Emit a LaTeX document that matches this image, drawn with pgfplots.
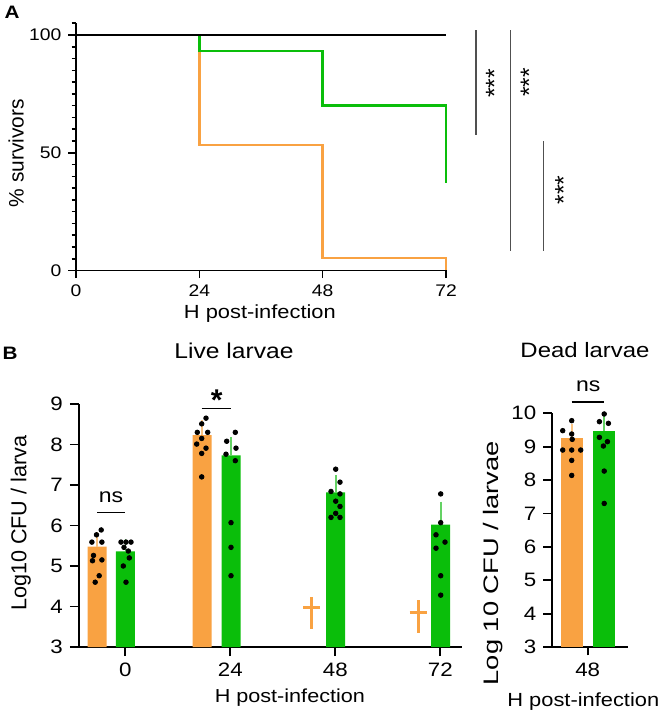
\documentclass[border=0pt]{standalone}
\usepackage{fontspec}
\setmainfont{Liberation Sans}[FakeStretch=1.15]
\newfontfamily\rotfont{Liberation Sans}
\newfontfamily\deadfont{Liberation Sans}[FakeStretch=1.3]
\usepackage{pgfplots}
\pgfplotsset{compat=1.18}
\definecolor{cor}{RGB}{249,162,66}
\definecolor{cgr}{RGB}{10,190,10}
\definecolor{corL}{RGB}{250,195,130}
\definecolor{cgrL}{RGB}{100,210,100}
\definecolor{sig}{RGB}{80,80,80}
\pgfplotsset{
  myax/.style={
    scale only axis,
    axis lines=left, axis line style={-, line width=0.9pt},
    tick align=outside,
    every tick/.style={black, line width=0.9pt},
    /pgf/number format/assume math mode=true,
  }
}
\begin{document}
\begin{tikzpicture}
\useasboundingbox (0,0) rectangle (330pt,357.5pt);
\node[font=\bfseries\fontsize{9}{10}\selectfont, inner sep=0pt] at (6pt,351.25pt) {A};
\node[font=\bfseries\fontsize{9}{10}\selectfont, inner sep=0pt] at (5pt,181pt) {B};
% ---------------- Panel A ----------------
\begin{axis}[myax,
  at={(38pt,222.25pt)}, anchor=south west,
  width=185pt, height=123.6pt,
  xmin=0, xmax=72, ymin=0, ymax=105,
  axis line style={-, line width=0.8pt},
  every tick/.style={black, line width=0.8pt},
  xtick={0,24,48,72}, ytick={0,50,100},
  minor ytick={5,10,...,105},
  major tick length=3.8pt, minor tick length=2.2pt,
  tick label style={font=\fontsize{8.4}{9}\selectfont},
  xlabel={H post-infection}, ylabel={\% survivors},
  xlabel style={at={(axis description cs:0.497,-0.173)}, anchor=center, font=\fontsize{9.5}{11}\selectfont},
  ylabel style={at={(axis description cs:-0.162,0.475)}, anchor=center, font=\rotfont\fontsize{10.45}{12}\selectfont},
  clip=false,
]
\addplot[cor, const plot, line width=1.2pt] coordinates {(0,100)(24,53.3)(48,5.2)(72,0)};
\addplot[cgr, const plot, line width=1.2pt] coordinates {(0,100)(24,93.2)(48,70)(72,37.3)};
\addplot[black, line width=1.2pt] coordinates {(0,100)(72,100)};
\draw[sig, line width=0.65pt] (axis cs:77.84,102.1) -- (axis cs:77.84,57.6);
\draw[sig, line width=0.65pt] (axis cs:84.59,102.1) -- (axis cs:84.59,8.4);
\draw[sig, line width=0.65pt] (axis cs:91.01,55.0) -- (axis cs:91.01,8.4);
\node[rotate=90, font=\rotfont\fontsize{12.3}{14}\selectfont, inner sep=0pt] at (axis cs:81.4,79.5) {***};
\node[rotate=90, font=\rotfont\fontsize{12.3}{14}\selectfont, inner sep=0pt] at (axis cs:88.2,79.8) {***};
\node[rotate=90, font=\rotfont\fontsize{12.3}{14}\selectfont, inner sep=0pt] at (axis cs:94.9,34.2) {***};
\end{axis}
% ---------------- Panel B: live larvae ----------------
\begin{axis}[myax,
  at={(39.5pt,34pt)}, anchor=south west,
  width=191.35pt, height=121.5pt,
  xmin=-46.3, xmax=336.4, ymin=3, ymax=9,
  xtick={0,105,210,315}, xticklabels={0,24,48,72},
  ytick={3,4,5,6,7,8,9},
  major tick length=4.6pt,
  tick label style={font=\fontsize{9.7}{11}\selectfont},
  xlabel={H post-infection}, ylabel={Log10 CFU / larva},
  title={Live larvae},
  xlabel style={at={(axis description cs:0.551,-0.21)}, anchor=center, font=\fontsize{9.4}{11}\selectfont},
  ylabel style={at={(axis description cs:-0.152,0.509)}, anchor=center, font=\rotfont\fontsize{10.8}{12}\selectfont},
  title style={at={(axis description cs:0.405,1.171)}, anchor=center, font=\fontsize{10.7}{12}\selectfont},
  clip mode=individual,
]
\addplot[ybar, bar width=19, bar shift=0pt, fill=cor, draw=none,
  error bars/.cd, y dir=plus, y explicit,
  error bar style={corL, line width=0.8pt},
  error mark options={corL, line width=0.8pt, mark size=2pt}]
  coordinates {(-28.1,5.48) +- (0,0.25) (76.7,8.23) +- (0,0.27)};
\addplot[ybar, bar width=19, bar shift=0pt, fill=cgr, draw=none,
  error bars/.cd, y dir=plus, y explicit,
  error bar style={cgrL, line width=0.8pt},
  error mark options={cgrL, line width=0.8pt, mark size=2pt}]
  coordinates {(0,5.36) +- (0,0.21) (105.7,7.73) +- (0,0.36) (210.4,6.82) +- (0,0.33) (315.4,6.02) +- (0,0.47)};
\addplot[only marks, mark=*, mark size=1.15pt, black] coordinates {
  (-24.1,5.89) (-28.8,5.77) (-33.4,5.59) (-23.4,5.59) (-31.8,5.26) (-23.4,5.15) (-32.8,5.13) (-26.1,4.76) (-30.1,4.60)
  (-4.3,5.59) (0.7,5.59) (5.7,5.59) (-1.3,5.46) (3,5.37) (4,5.20) (-2,5.00) (0.7,4.60)
  (80.7,8.65) (76.4,8.51) (72,8.30) (82.4,8.30) (76.4,8.15) (71.4,8.01) (80.7,7.91) (76.4,7.78) (76.4,7.20)
  (110,8.30) (101.4,8.08) (110.7,7.91) (100.7,7.76) (110,7.60) (105.7,6.07) (105.7,5.46) (105.7,4.76)
  (210.4,7.39) (214.7,7.07) (205.7,6.84) (214.7,6.78) (210.4,6.60) (214.7,6.47) (210.4,6.30) (205.7,6.20) (214.7,6.20)
  (315.4,6.78) (315.4,6.07) (310.7,5.77) (319.7,5.59) (310.7,5.44) (315.4,4.76) (315.4,4.28)
};
% daggers (all larvae dead)
\addplot[cor, line width=1.25pt] coordinates {(186.4,4.24)(186.4,3.44)};
\addplot[cor, line width=1.25pt] coordinates {(177.7,3.97)(195.1,3.97)};
\addplot[cor, line width=1.25pt] coordinates {(293,4.16)(293,3.34)};
\addplot[cor, line width=1.25pt] coordinates {(284.3,3.85)(301.7,3.85)};
% significance
\draw[black, line width=0.9pt] (axis cs:-28.3,6.32) -- (axis cs:0,6.32);
\node[font=\fontsize{10}{11}\selectfont] at (axis cs:-14.3,6.71) {ns};
\draw[black, line width=0.9pt] (axis cs:76.4,8.89) -- (axis cs:105.7,8.89);
\node[font=\rotfont\bfseries\fontsize{15}{16}\selectfont] at (axis cs:91.4,9.10) {*};
\end{axis}
% ---------------- Panel B: dead larvae ----------------
\begin{axis}[myax,
  at={(275.85pt,34pt)}, anchor=south west,
  width=38.15pt, height=116.85pt,
  xmin=-36, xmax=40.3, ymin=3, ymax=10,
  xtick={0}, xticklabels={48},
  ytick={3,4,5,6,7,8,9,10},
  major tick length=4.2pt,
  tick label style={font=\fontsize{9.7}{11}\selectfont},
  xlabel={H post-infection}, ylabel={Log 10 CFU / larvae},
  title={Dead larvae},
  xlabel style={at={(axis description cs:0.414,-0.235)}, anchor=center, font=\fontsize{9.5}{11}\selectfont},
  ylabel style={at={(axis description cs:-0.773,0.359)}, anchor=center, font=\deadfont\fontsize{10.5}{12}\selectfont},
  title style={at={(axis description cs:0.436,1.22)}, anchor=center, font=\fontsize{10.4}{12}\selectfont},
  clip mode=individual,
]
\addplot[ybar, bar width=22, bar shift=0pt, fill=cor, draw=none,
  error bars/.cd, y dir=plus, y explicit,
  error bar style={corL, line width=0.8pt},
  error mark options={corL, line width=0.8pt, mark size=2pt}]
  coordinates {(-16,9.25) +- (0,0.30)};
\addplot[ybar, bar width=22, bar shift=0pt, fill=cgr, draw=none,
  error bars/.cd, y dir=plus, y explicit,
  error bar style={cgrL, line width=0.8pt},
  error mark options={cgrL, line width=0.8pt, mark size=2pt}]
  coordinates {(16.5,9.48) +- (0,0.32)};
\addplot[only marks, mark=*, mark size=1.15pt, black] coordinates {
  (-16,9.78) (-25,9.48) (-16,9.38) (-15.5,9.22) (-25,8.90) (-16,8.90) (-7,8.90) (-16,8.59) (-16,8.14)
  (16.5,9.98) (11.7,9.75) (20.7,9.70) (11.7,9.28) (19.7,9.15) (15.7,9.02) (16.5,8.27) (16.5,7.30)
};
\draw[black, line width=0.9pt] (axis cs:-16,10.33) -- (axis cs:16.3,10.33);
\node[font=\fontsize{10}{11}\selectfont] at (axis cs:0.6,10.8) {ns};
\end{axis}
\end{tikzpicture}
\end{document}
